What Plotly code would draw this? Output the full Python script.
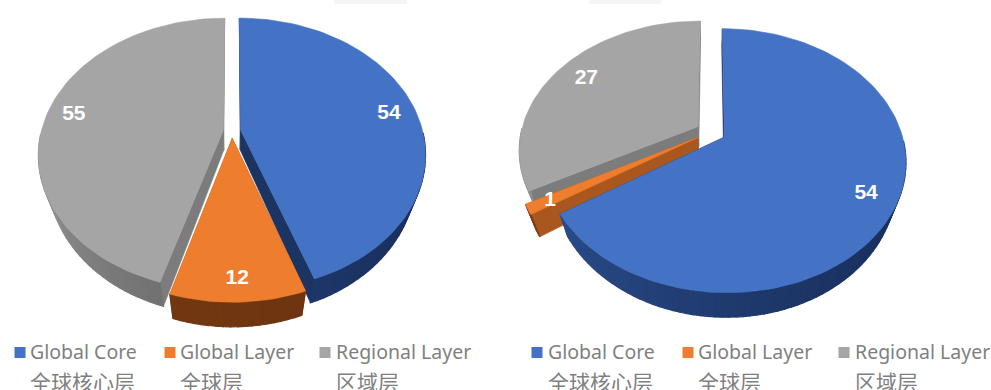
import numpy as np
import plotly.graph_objects as go

# Values of the two pies, clockwise from twelve o'clock
categories = ["Global Core", "Global Layer", "Regional Layer"]
categories_zh = ["全球核心层", "全球层", "区域层"]
left_values = [54, 12, 55]
right_values = [54, 1, 27]

# Face colours, with cut-face and rim shades for each slice
TOP = ["#4472c4", "#ee7d2d", "#a5a5a5"]
CUT = ["#1c3461", "#a9571e", "#7c7c7c"]
RIM_A = ["#2f5597", "#7a3c12", "#8f8f8f"]
RIM_B = ["#1a3160", "#6b3410", "#5a5a5a"]
TEXT = "#7f7f7f"

K = 0.177        # perspective strength
CONVERGE = 0.05  # how much the base shrinks toward the axis
STEP = 2.0       # degrees per rim segment

left_pie = dict(
    values=left_values, cx=232, cy=131, rx=182, ry=132, depth=20,
    explode=[0.048, 0.055, 0.048], order=[2, 0, 1],
    label_r=[0.85, 0.87, 0.85], label_dy=[2, 2, 0],
)
right_pie = dict(
    values=right_values, cx=711, cy=132, rx=177, ry=126, depth=20,
    explode=[0.085, 0.085, 0.085], order=[2, 1, 0],
    label_r=[0.835, 0.88, 0.80], label_dy=[2, 1, 0],
)


def project(pie, u, v, down=0.0):
    """Disk coordinates to page pixels; down=1 gives the underside."""
    u, v = np.asarray(u, float), np.asarray(v, float)
    w = 1 + K * v
    x = pie["cx"] + pie["rx"] * u / w * (1 - CONVERGE * down)
    y = pie["cy"] - pie["ry"] * v / w + pie["depth"] * down / w
    return x, y


def mix(a, b, t):
    ca = [int(a[i:i + 2], 16) for i in (1, 3, 5)]
    cb = [int(b[i:i + 2], 16) for i in (1, 3, 5)]
    return "rgb(%d,%d,%d)" % tuple(round(p + (q - p) * t) for p, q in zip(ca, cb))


def polygon(fig, x, y, color, stroke=0.6):
    fig.add_trace(go.Scatter(
        x=np.r_[x, x[0]], y=np.r_[y, y[0]], mode="lines", fill="toself",
        fillcolor=color, line=dict(color=color, width=stroke),
        hoverinfo="skip", showlegend=False,
    ))


def draw_pie(fig, pie):
    values = np.array(pie["values"], float)
    edges = np.r_[0, np.cumsum(values)] / values.sum() * 360
    for i in pie["order"]:
        a0, a1 = edges[i], edges[i + 1]
        mid = np.radians((a0 + a1) / 2)
        ou, ov = pie["explode"][i] * np.sin(mid), pie["explode"][i] * np.cos(mid)

        n = max(2, int(np.ceil((a1 - a0) / STEP)) + 1)
        ang = np.radians(np.linspace(a0, a1, n))
        u, v = ou + np.sin(ang), ov + np.cos(ang)

        # straight cut faces between the axis and the arc ends
        for end in (0, -1):
            cu, cv = np.array([ou, u[end]]), np.array([ov, v[end]])
            xt, yt = project(pie, cu, cv)
            xb, yb = project(pie, cu, cv, 1)
            polygon(fig, np.r_[xt, xb[::-1]], np.r_[yt, yb[::-1]], CUT[i])

        # outer rim on the camera side only, shaded left to right
        xt, yt = project(pie, u, v)
        xb, yb = project(pie, u, v, 1)
        for j in range(n - 1):
            if max(np.cos(ang[j]), np.cos(ang[j + 1])) > 0.0:
                continue
            t = (0.5 * (xt[j] + xt[j + 1]) - pie["cx"] + pie["rx"]) / (2 * pie["rx"])
            polygon(fig,
                    np.array([xt[j], xt[j + 1], xb[j + 1], xb[j]]),
                    np.array([yt[j], yt[j + 1], yb[j + 1], yb[j]]),
                    mix(RIM_A[i], RIM_B[i], float(np.clip(t, 0, 1)) ** 0.5),
                    stroke=1.2)

        # top face
        xf, yf = project(pie, np.r_[ou, u], np.r_[ov, v])
        polygon(fig, xf, yf, TOP[i])

    # value labels, on each slice's mid-angle
    lx, ly, lt = [], [], []
    for i, val in enumerate(pie["values"]):
        mid = np.radians((edges[i] + edges[i + 1]) / 2)
        r = pie["label_r"][i] + pie["explode"][i]
        x, y = project(pie, r * np.sin(mid), r * np.cos(mid))
        lx.append(float(x)); ly.append(float(y) + pie["label_dy"][i]); lt.append(str(val))
    return lx, ly, lt


fig = go.Figure()

# pale tabs clipped by the top edge
for x0, x1 in ((334, 407), (589, 661)):
    fig.add_shape(type="rect", xref="x", yref="y", x0=x0, x1=x1, y0=-6, y1=4,
                  fillcolor="#f5f5f5", line_width=0, layer="below")

label_x, label_y, label_t = [], [], []
for pie in (left_pie, right_pie):
    lx, ly, lt = draw_pie(fig, pie)
    label_x += lx; label_y += ly; label_t += lt

fig.add_trace(go.Scatter(
    x=label_x, y=label_y, text=label_t, mode="text", textposition="middle center",
    textfont=dict(family="Liberation Sans", size=21, color="#ffffff", weight="bold"),
    hoverinfo="skip", showlegend=False,
))

# two hand-built legends under the pies
legend_rows = [
    ([20, 170, 325], [28, 178, 334]),
    ([537, 688, 844], [546, 696, 853]),
]
for marks, starts in legend_rows:
    fig.add_trace(go.Scatter(
        x=marks, y=[352.5] * 3, mode="markers",
        marker=dict(symbol="square", size=11, color=TOP, line_width=0),
        hoverinfo="skip", showlegend=False,
    ))
    for k in range(3):
        fig.add_annotation(x=starts[k], y=351, text=categories[k], xref="x", yref="y",
                           xanchor="left", yanchor="middle", showarrow=False,
                           font=dict(family="Noto Sans", size=19.5, color=TEXT))
        fig.add_annotation(x=starts[k], y=380.5, text=categories_zh[k], xref="x", yref="y",
                           xanchor="left", yanchor="middle", showarrow=False,
                           font=dict(family="Noto Sans CJK SC", size=21, color=TEXT))

fig.update_layout(
    width=991, height=390, autosize=False,
    margin=dict(l=0, r=0, t=0, b=0),
    paper_bgcolor="#ffffff", plot_bgcolor="#ffffff",
    xaxis=dict(range=[0, 991], visible=False, fixedrange=True),
    yaxis=dict(range=[390, 0], visible=False, fixedrange=True),
    showlegend=False,
)
fig.write_html("out.html", config=dict(displayModeBar=False))
